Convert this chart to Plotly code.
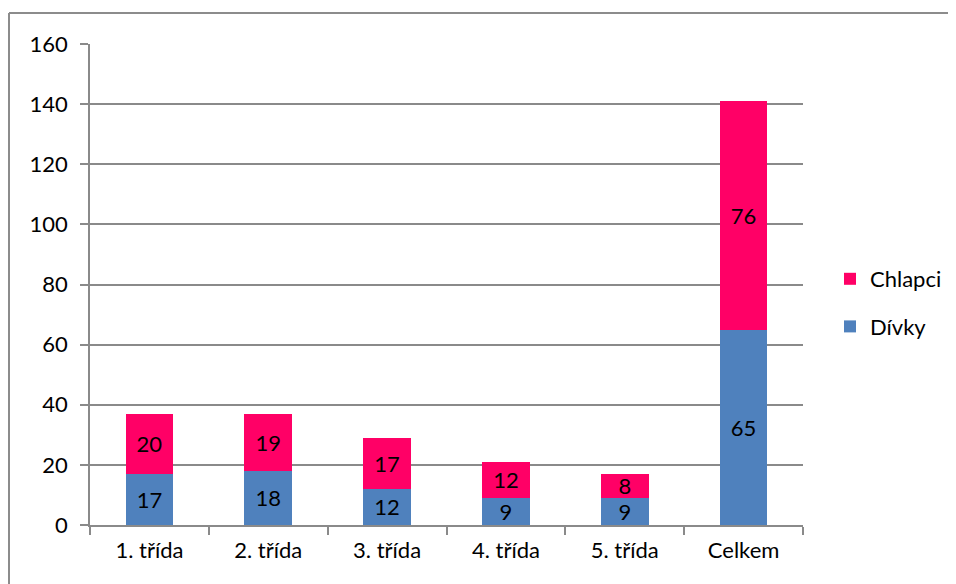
import plotly.graph_objects as go

categories = ["1. třída", "2. třída", "3. třída", "4. třída", "5. třída", "Celkem"]
divky = [17, 18, 12, 9, 9, 65]
chlapci = [20, 19, 17, 12, 8, 76]
y_ticks = [0, 20, 40, 60, 80, 100, 120, 140, 160]

W, H = 956, 584
# page body offset of 8px is accounted for
L, R, T, B = 82, 795, 36, 517
pw, ph = R - L, B - T

def px(x):
    return (x - L) / pw

def py(y):
    return (B - y) / ph

FONT = "Lato, Liberation Sans, sans-serif"
FS = 22
AX = "#8a8a8a"

fig = go.Figure()
fig.add_trace(go.Bar(
    name="Dívky", x=categories, y=divky, marker=dict(color="#4F81BD", line=dict(width=0)),
    text=[str(v) for v in divky], textposition="inside", insidetextanchor="middle",
    textangle=0,
    textfont=dict(color="black", size=FS, family=FONT), constraintext="none",
    width=0.4, legendgroup="d", legendrank=2,
))
fig.add_trace(go.Bar(
    name="Chlapci", x=categories, y=chlapci, marker=dict(color="#FF0066", line=dict(width=0)),
    text=[str(v) for v in chlapci], textposition="inside", insidetextanchor="middle",
    textangle=0,
    textfont=dict(color="black", size=FS, family=FONT), constraintext="none",
    width=0.4, legendgroup="c", legendrank=1,
))

fig.update_layout(
    width=W, height=H,
    margin=dict(l=L, r=W - R, t=T, b=H - B, pad=0),
    barmode="stack",
    paper_bgcolor="white", plot_bgcolor="white",
    font=dict(family=FONT, size=FS, color="black"),
    showlegend=True,
    legend=dict(
        x=px(822), y=py(295), xanchor="left", yanchor="middle",
        traceorder="grouped", tracegroupgap=16,
        font=dict(size=FS, family=FONT), bgcolor="rgba(0,0,0,0)",
    ),
    xaxis=dict(
        type="category", range=[-0.5, 5.5], showgrid=False,
        showline=True, linecolor=AX, linewidth=1.5,
        ticks="outside", tickson="boundaries", ticklen=8, tickcolor=AX, tickwidth=1.5,
        ticklabelstandoff=5,
        tickfont=dict(size=FS, family=FONT), fixedrange=True,
    ),
    yaxis=dict(
        range=[0, 160], tickvals=y_ticks, ticktext=[str(v) for v in y_ticks],
        showgrid=True, gridcolor=AX, gridwidth=1.5,
        showline=True, linecolor=AX, linewidth=1.5,
        ticks="outside", ticklen=8, tickcolor=AX, tickwidth=1.5,
        ticklabelstandoff=8,
        tickfont=dict(size=FS, family=FONT), zeroline=False, fixedrange=True,
    ),
    shapes=[
        dict(type="line", xref="paper", yref="paper",
             x0=px(1), x1=px(960), y0=py(5), y1=py(5),
             line=dict(color="#8c8c8c", width=2)),
        dict(type="line", xref="paper", yref="paper",
             x0=px(1), x1=px(1), y0=py(5), y1=py(600),
             line=dict(color="#8c8c8c", width=2)),
    ],
)

fig.write_html("out.html")
